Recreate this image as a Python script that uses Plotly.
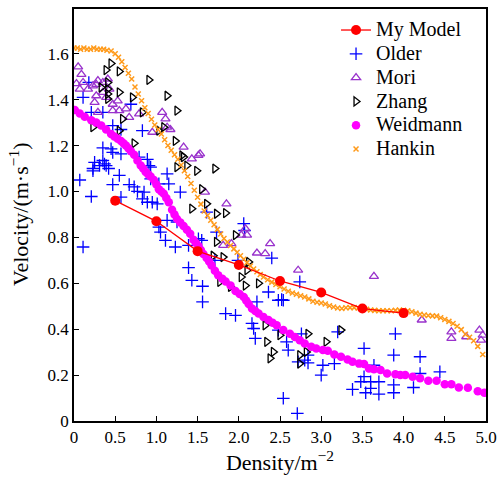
import plotly.graph_objects as go

# ---------------- data ----------------
model_x = [0.5, 1.0, 1.5, 2.0, 2.5, 3.0, 3.5, 4.0]
model_y = [0.96, 0.87, 0.74, 0.68, 0.61, 0.56, 0.49, 0.47]

older_x = [0.18, 0.11, 0.21, 0.35, 0.47, 0.57, 0.69, 0.83, 0.35, 0.45, 0.57, 0.47, 0.25, 0.35, 0.39,
           0.23, 0.42, 0.55, 0.79, 0.89, 0.91, 1.13, 0.07, 0.21, 0.11, 0.31, 0.37, 0.23, 0.47, 0.57,
           0.67, 0.73, 0.77, 0.85, 0.83, 0.89, 0.95, 1.01, 0.93, 0.93, 1.03, 1.15, 1.29, 1.13, 1.03,
           1.05, 1.11, 1.25, 1.23, 1.39, 1.51, 1.55, 1.39, 1.43, 1.56, 1.56, 1.61, 1.73, 2.06, 2.07,
           1.99, 1.71, 2.40, 2.74, 2.36, 2.52, 1.84, 1.96, 2.48, 2.54, 2.22, 2.16, 2.18, 2.20, 2.48,
           2.58, 2.60, 2.76, 2.84, 2.72, 2.80, 2.84, 3.02, 3.00, 3.16, 3.20, 2.54, 2.71, 3.90, 3.52,
           3.88, 4.20, 3.64, 4.20, 4.44, 3.52, 3.48, 3.60, 3.70, 3.88, 3.38, 3.60, 4.12, 3.54, 3.70,
           3.88]
older_y = [1.475, 1.41, 1.345, 1.345, 1.287, 1.27, 1.38, 1.265, 1.19, 1.186, 1.164, 1.17, 1.127, 1.135, 1.113,
           1.10, 1.10, 1.07, 1.15, 1.14, 1.113, 1.077, 1.05, 0.978, 0.758, 1.113, 1.12, 1.09, 1.03, 0.975,
           1.03, 1.02, 1.0, 0.997, 0.968, 0.953, 0.953, 0.946, 1.106, 1.055, 1.033, 1.033, 0.997, 0.874, 0.845,
           0.823, 0.787, 0.867, 0.758, 0.765, 0.794, 0.787, 0.668, 0.613, 0.587, 0.519, 0.91, 0.823, 0.86, 0.83,
           0.70, 0.70, 0.71, 0.606, 0.562, 0.529, 0.468, 0.46, 0.526, 0.526, 0.519, 0.425, 0.403, 0.36, 0.396,
           0.345, 0.309, 0.38, 0.287, 0.258, 0.265, 0.253, 0.243, 0.20, 0.25, 0.388, 0.099, 0.033, 0.38, 0.316,
           0.287, 0.28, 0.243, 0.207, 0.214, 0.193, 0.171, 0.171, 0.171, 0.157, 0.138, 0.142, 0.146, 0.123, 0.117,
           0.123]

mori_x = [0.05, 0.09, 0.03, 0.11, 0.07, 0.17, 0.23, 0.27, 0.29, 0.35, 0.41, 0.27, 0.35, 0.43, 0.39,
          0.25, 0.47, 0.53, 0.47, 0.55, 0.29, 0.63, 0.67, 0.79, 0.95, 1.07, 1.11, 1.13, 1.17, 1.33,
          1.43, 1.51, 1.53, 1.59, 1.85, 2.08, 2.03, 2.10, 1.81, 1.91, 2.38, 2.22, 2.32, 2.72, 3.64,
          4.22, 4.58, 4.58, 4.76, 4.92, 4.96, 4.94]
mori_y = [1.543, 1.51, 1.47, 1.475, 1.446, 1.446, 1.46, 1.467, 1.483, 1.475, 1.49, 1.417, 1.432, 1.446, 1.41,
          1.388, 1.38, 1.395, 1.352, 1.352, 1.345, 1.36, 1.323, 1.338, 1.258, 1.345, 1.316, 1.28, 1.27, 1.193,
          1.142, 1.157, 1.164, 0.997, 0.946, 0.838, 0.81, 0.81, 0.765, 0.773, 0.773, 0.732, 0.729, 0.657, 0.63,
          0.44, 0.388, 0.36, 0.367, 0.396, 0.374, 0.352]

zhang_x = [0.45, 0.39, 0.55, 0.91, 1.13, 1.25, 0.41, 0.33, 0.41, 0.41, 0.41, 0.55, 0.71, 0.83, 0.59,
           0.23, 0.55, 0.73, 1.23, 1.09, 1.31, 1.25, 1.37, 1.49, 1.03, 1.33, 1.71, 1.43, 1.55, 1.61,
           1.73, 1.84, 1.96, 1.73, 1.69, 1.81, 2.12, 2.10, 2.03, 2.24, 2.08, 1.77, 1.90, 2.34, 2.32,
           2.42, 2.38, 2.50, 2.74, 2.74, 2.82, 2.84, 3.06, 3.24]
zhang_y = [1.558, 1.529, 1.523, 1.486, 1.417, 1.352, 1.475, 1.453, 1.446, 1.425, 1.403, 1.432, 1.41, 1.345, 1.316,
           1.28, 1.265, 1.21, 1.22, 1.28, 1.157, 1.106, 1.113, 1.09, 1.265, 1.15, 1.10, 0.925, 1.01, 0.946,
           0.903, 0.906, 0.81, 0.78, 0.72, 0.714, 0.693, 0.657, 0.627, 0.60, 0.59, 0.606, 0.584, 0.345, 0.417,
           0.301, 0.273, 0.374, 0.287, 0.25, 0.301, 0.38, 0.345, 0.396]

weid_x = [0.01, 0.07, 0.13, 0.21, 0.27, 0.33, 0.39, 0.45, 0.49, 0.53, 0.57, 0.60, 0.63, 0.66, 0.69,
          0.73, 0.77, 0.81, 0.84, 0.87, 0.90, 0.93, 0.97, 1.00, 1.03, 1.06, 1.09, 1.12, 1.15, 1.19,
          1.22, 1.25, 1.29, 1.33, 1.37, 1.41, 1.45, 1.48, 1.51, 1.54, 1.57, 1.61, 1.64, 1.67, 1.71,
          1.75, 1.80, 1.84, 1.90, 1.96, 2.01, 2.06, 2.09, 2.12, 2.16, 2.20, 2.24, 2.30, 2.36, 2.41,
          2.46, 2.54, 2.62, 2.68, 2.74, 2.80, 2.88, 2.94, 3.02, 3.08, 3.16, 3.24, 3.32, 3.38, 3.46,
          3.52, 3.58, 3.64, 3.72, 3.80, 3.90, 3.96, 4.02, 4.11, 4.20, 4.30, 4.40, 4.50, 4.58, 4.67,
          4.78, 4.90, 4.98]
weid_y = [1.355, 1.34, 1.326, 1.31, 1.30, 1.287, 1.27, 1.25, 1.24, 1.23, 1.22, 1.21, 1.20, 1.188, 1.175,
          1.16, 1.135, 1.113, 1.10, 1.085, 1.075, 1.065, 1.05, 1.03, 1.01, 1.0, 0.99, 0.972, 0.953, 0.92,
          0.90, 0.88, 0.865, 0.85, 0.833, 0.816, 0.79, 0.776, 0.762, 0.745, 0.728, 0.71, 0.695, 0.678, 0.655,
          0.635, 0.62, 0.608, 0.59, 0.566, 0.553, 0.54, 0.525, 0.51, 0.49, 0.479, 0.468, 0.453, 0.44, 0.428,
          0.417, 0.396, 0.38, 0.366, 0.352, 0.338, 0.323, 0.316, 0.309, 0.306, 0.29, 0.28, 0.268, 0.258, 0.25,
          0.248, 0.229, 0.225, 0.222, 0.207, 0.204, 0.20, 0.20, 0.193, 0.186, 0.175, 0.175, 0.16, 0.16, 0.146,
          0.145, 0.13, 0.123]

hank_x = [0.0, 0.04, 0.08, 0.12, 0.16, 0.2, 0.24, 0.28, 0.32, 0.36, 0.4, 0.45, 0.5, 0.54, 0.58,
          0.62, 0.66, 0.7, 0.74, 0.78, 0.82, 0.86, 0.9, 0.94, 0.98, 1.02, 1.06, 1.1, 1.14, 1.18,
          1.22, 1.26, 1.3, 1.34, 1.38, 1.42, 1.46, 1.5, 1.54, 1.58, 1.62, 1.66, 1.7, 1.74, 1.78,
          1.82, 1.86, 1.9, 1.94, 1.98, 2.02, 2.06, 2.1, 2.14, 2.18, 2.22, 2.26, 2.3, 2.35, 2.4,
          2.45, 2.5, 2.55, 2.6, 2.65, 2.7, 2.75, 2.8, 2.85, 2.9, 2.95, 3.0, 3.05, 3.1, 3.15,
          3.2, 3.25, 3.3, 3.35, 3.4, 3.45, 3.5, 3.55, 3.6, 3.65, 3.7, 3.75, 3.8, 3.85, 3.9,
          3.95, 4.0, 4.05, 4.1, 4.15, 4.2, 4.25, 4.3, 4.35, 4.4, 4.45, 4.5, 4.55, 4.6, 4.65,
          4.7, 4.75, 4.8, 4.85, 4.9, 4.96]
hank_y = [1.625, 1.625, 1.62, 1.625, 1.62, 1.62, 1.625, 1.62, 1.62, 1.62, 1.615, 1.612, 1.60, 1.585, 1.565,
          1.54, 1.515, 1.49, 1.455, 1.425, 1.395, 1.365, 1.34, 1.315, 1.29, 1.27, 1.25, 1.225, 1.20, 1.18,
          1.16, 1.14, 1.115, 1.09, 1.065, 1.035, 1.005, 0.975, 0.945, 0.915, 0.895, 0.875, 0.855, 0.835, 0.815,
          0.795, 0.78, 0.765, 0.75, 0.735, 0.72, 0.705, 0.69, 0.675, 0.662, 0.65, 0.638, 0.627, 0.615, 0.605,
          0.595, 0.585, 0.575, 0.565, 0.558, 0.552, 0.546, 0.54, 0.532, 0.522, 0.517, 0.514, 0.51, 0.502, 0.497,
          0.492, 0.49, 0.493, 0.494, 0.494, 0.492, 0.49, 0.487, 0.484, 0.482, 0.48, 0.48, 0.48, 0.48, 0.482,
          0.483, 0.482, 0.48, 0.476, 0.47, 0.465, 0.462, 0.46, 0.458, 0.457, 0.45, 0.442, 0.434, 0.425, 0.413,
          0.398, 0.378, 0.365, 0.35, 0.325, 0.29]

x_ticks = [0, 0.5, 1.0, 1.5, 2.0, 2.5, 3.0, 3.5, 4.0, 4.5, 5.0]
x_ticktext = ["0", "0.5", "1.0", "1.5", "2.0", "2.5", "3.0", "3.5", "4.0", "4.5", "5.0"]
y_ticks = [0, 0.2, 0.4, 0.6, 0.8, 1.0, 1.2, 1.4, 1.6]
y_ticktext = ["0", "0.2", "0.4", "0.6", "0.8", "1.0", "1.2", "1.4", "1.6"]

FONT = "Liberation Serif, DejaVu Serif, serif"


def leg(name):
    return '<span style="font-size:20px">' + name + '</span>'


fig = go.Figure()
fig.add_trace(go.Scatter(x=older_x, y=older_y, mode="markers", name=leg("Older"), legendrank=2,
                         marker=dict(symbol="cross-thin", size=9, line=dict(color="#0000ff", width=1.3))))
fig.add_trace(go.Scatter(x=mori_x, y=mori_y, mode="markers", name=leg("Mori"), legendrank=3,
                         marker=dict(symbol="triangle-up-open", size=8, color="#9932cc", line=dict(width=1.3))))
fig.add_trace(go.Scatter(x=zhang_x, y=zhang_y, mode="markers", name=leg("Zhang"), legendrank=4,
                         marker=dict(symbol="triangle-right-open", size=8, color="#000000", line=dict(width=1.3))))
fig.add_trace(go.Scatter(x=weid_x, y=weid_y, mode="markers", name=leg("Weidmann"), legendrank=5,
                         marker=dict(symbol="circle", size=8.5, color="#ff00ff")))
fig.add_trace(go.Scatter(x=hank_x, y=hank_y, mode="markers", name=leg("Hankin"), legendrank=6,
                         marker=dict(symbol="x-thin", size=5, line=dict(color="#ff9a1a", width=1.5))))
fig.add_trace(go.Scatter(x=model_x, y=model_y, mode="lines+markers", name=leg("My Model"), legendrank=1,
                         line=dict(color="#ff0000", width=1.3),
                         marker=dict(symbol="circle", size=10, color="#ff0000")))

fig.update_layout(
    width=504, height=477,
    margin=dict(l=74, r=14, t=7, b=56),
    paper_bgcolor="white", plot_bgcolor="white",
    font=dict(family=FONT, size=15, color="#000000"),
    showlegend=True,
    legend=dict(x=0.636, y=0.99, xanchor="left", yanchor="top", traceorder="normal",
                bgcolor="rgba(255,255,255,0)", font=dict(size=16, family=FONT),
                itemwidth=30, tracegroupgap=0),
    annotations=[dict(text="Velocity/(m\u00b7s<sup>\u22121</sup>)", textangle=-90,
                      xref="paper", yref="paper", x=0, y=0.5, xanchor="center", yanchor="middle",
                      xshift=-55, showarrow=False, font=dict(size=22, family=FONT))],
)
fig.update_xaxes(range=[0, 5], tickvals=x_ticks, ticktext=x_ticktext, ticks="inside", ticklen=5,
                 tickwidth=1, tickcolor="black", showline=True, linecolor="black", linewidth=1.5,
                 mirror=True, showgrid=False, zeroline=False,
                 title=dict(text="Density/m<sup>\u22122</sup>", font=dict(size=22), standoff=5),
                 tickfont=dict(size=17))
fig.update_yaxes(range=[0, 1.795], tickvals=y_ticks, ticktext=y_ticktext, ticks="inside", ticklen=5,
                 tickwidth=1, tickcolor="black", showline=True, linecolor="black", linewidth=1.5,
                 mirror=True, showgrid=False, zeroline=False,
                 tickfont=dict(size=17))

fig.write_html("out.html")
